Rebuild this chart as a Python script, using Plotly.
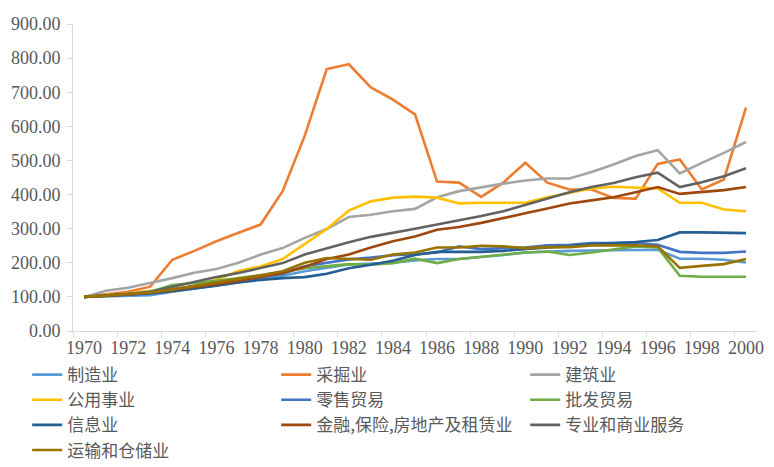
import plotly.graph_objects as go

years = list(range(1970, 2001))

series_names = ["制造业", "采掘业", "建筑业", "公用事业", "零售贸易", "批发贸易",
                "信息业", "金融,保险,房地产及租赁业", "专业和商业服务", "运输和仓储业"]

manufacturing = [100, 102, 103, 105, 115, 125, 133, 143, 152, 162, 175, 185, 195, 198, 200, 207,
                 211, 211, 216, 223, 230, 233, 235, 236, 236, 238, 238, 212, 212, 209, 201]
mining = [100, 108, 115, 130, 209, 235, 263, 288, 312, 410, 572, 768, 782, 714, 678, 635,
          438, 435, 393, 435, 493, 435, 415, 415, 390, 388, 490, 503, 415, 444, 655]
construction = [100, 118, 127, 140, 155, 171, 182, 200, 224, 243, 273, 299, 334, 341, 351, 358,
                392, 410, 422, 432, 441, 447, 447, 466, 488, 513, 530, 462, 493, 522, 554]
utilities = [100, 105, 110, 118, 116, 132, 150, 176, 189, 211, 256, 299, 353, 380, 391, 394,
             391, 374, 376, 376, 376, 392, 405, 418, 423, 420, 418, 376, 376, 356, 351]
retail = [100, 104, 108, 113, 122, 131, 140, 149, 158, 168, 190, 200, 210, 215, 222, 225,
          230, 248, 240, 243, 245, 251, 253, 258, 258, 258, 253, 232, 229, 229, 233]
wholesale = [100, 102, 108, 115, 135, 140, 147, 155, 163, 172, 184, 191, 196, 194, 199, 212,
             199, 211, 218, 223, 230, 233, 223, 230, 238, 248, 245, 162, 159, 159, 159]
information = [100, 103, 105, 110, 117, 124, 133, 142, 150, 155, 158, 168, 184, 194, 206, 223,
               232, 232, 232, 235, 241, 245, 248, 255, 258, 261, 267, 289, 289, 287, 287]
finance = [100, 103, 107, 112, 120, 128, 137, 147, 158, 170, 188, 211, 224, 245, 263, 277,
           297, 305, 317, 330, 345, 359, 374, 383, 392, 407, 422, 402, 407, 413, 422]
professional = [100, 104, 108, 115, 130, 145, 158, 170, 184, 199, 224, 243, 260, 276, 289, 300,
                312, 324, 337, 351, 369, 387, 407, 422, 434, 451, 464, 422, 436, 454, 477]
transport = [100, 104, 108, 113, 122, 132, 142, 152, 163, 175, 200, 214, 211, 209, 224, 230,
             245, 245, 250, 248, 243, 246, 246, 251, 251, 251, 248, 185, 191, 196, 211]

all_values = [manufacturing, mining, construction, utilities, retail, wholesale,
              information, finance, professional, transport]
colors = ["#5B9BD5", "#ED7D31", "#A5A5A5", "#FFC000", "#4472C4", "#70AD47",
          "#255E91", "#9E480E", "#636363", "#997300"]

label_years = list(range(1970, 2001, 2))
minor_ticks = [y - 0.5 for y in range(1970, 2001, 2)]

fig = go.Figure()
for name, vals, col in zip(series_names, all_values, colors):
    fig.add_trace(go.Scatter(x=years, y=vals, name=name, mode="lines",
                             line=dict(color=col, width=2.6)))

axis_font = dict(family="Liberation Serif", size=18, color="#595959")

# page body has an 8px default margin, so the figure is sized 8px smaller
fig.update_layout(
    width=766, height=459,
    margin=dict(l=65, r=17, t=16, b=136, autoexpand=False),
    paper_bgcolor="white", plot_bgcolor="white",
    xaxis=dict(range=[1969.5, 2000.5], tickvals=label_years,
               ticktext=[str(y) for y in label_years], ticks="",
               showline=True, linecolor="#d9d9d9", linewidth=1,
               showgrid=False, zeroline=False, tickfont=axis_font,
               minor=dict(tickvals=minor_ticks, ticks="outside", ticklen=5,
                          tickcolor="#d9d9d9", showgrid=False)),
    yaxis=dict(range=[0, 900], dtick=100, tickformat=".2f",
               showline=True, linecolor="#d9d9d9", linewidth=1,
               ticks="outside", ticklen=5, tickcolor="#d9d9d9",
               ticklabelstandoff=3,
               showgrid=False, zeroline=False, tickfont=axis_font),
    legend=dict(orientation="h", x=-0.067, xanchor="left", y=-0.085, yanchor="top",
                entrywidth=204, entrywidthmode="pixels",
                font=dict(family="Noto Sans CJK SC", size=17, color="#595959"),
                bgcolor="rgba(0,0,0,0)"),
    showlegend=True,
)

fig.write_html("out.html")
